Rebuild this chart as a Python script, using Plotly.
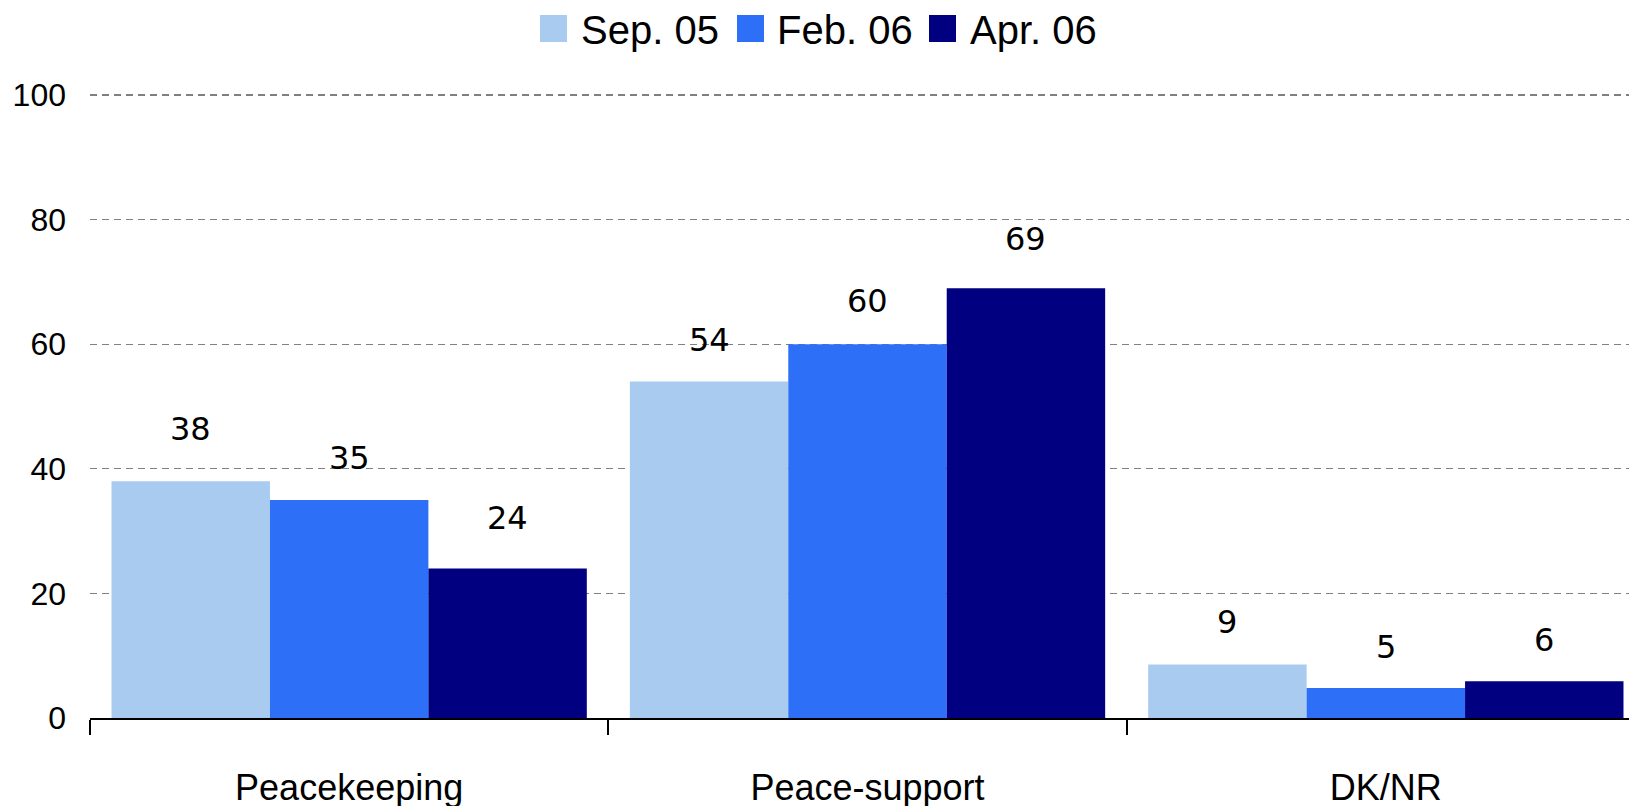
import plotly.graph_objects as go

categories = ["Peacekeeping", "Peace-support", "DK/NR"]
series_names = ["Sep. 05", "Feb. 06", "Apr. 06"]
series_colors = ["#A9CBF0", "#2D6FF7", "#000080"]

sep_05 = [38, 54, 8.6]
feb_06 = [35, 60, 4.8]
apr_06 = [24, 69, 5.9]

sep_05_labels = ["38", "54", "9"]
feb_06_labels = ["35", "60", "5"]
apr_06_labels = ["24", "69", "6"]

y_ticks = [0, 20, 40, 60, 80, 100]

values = [sep_05, feb_06, apr_06]
labels = [sep_05_labels, feb_06_labels, apr_06_labels]

WIDTH, HEIGHT = 1637, 806
MARGIN = dict(l=82, r=0, t=87, b=96)
BARGAP = 0.083

# gap in px between bar top and label baseline (the original labels were nudged by hand)
LABEL_GAPS = [[42, 32, 32], [32, 33, 31], [40, 39, 31]]

# hand-made legend: pixel offsets from the top-left corner of the plot area
LEGEND_SQUARES = [(450, 477), (647, 674), (839, 866)]
LEGEND_TEXT_X = [489, 685, 878]
LEGEND_SQ_Y = (53, 80)
LEGEND_TEXT_Y = 65

fig = go.Figure()
for name, color, vals in zip(series_names, series_colors, values):
    fig.add_trace(go.Bar(
        x=categories,
        y=vals,
        name=name,
        marker=dict(color=color, line=dict(width=0)),
        showlegend=False,
    ))

# value labels above each bar, shifted sideways to sit over their own bar
cat_px = (WIDTH - MARGIN["l"] - MARGIN["r"]) / len(categories)
bar_px = cat_px * (1 - BARGAP) / len(series_names)
for i, (vals, labs, gaps) in enumerate(zip(values, labels, LABEL_GAPS)):
    for cat, v, lab, gap in zip(categories, vals, labs, gaps):
        fig.add_annotation(
            x=cat, y=v, text=lab, showarrow=False,
            xshift=(i - 1) * bar_px, yshift=gap + 10, yanchor="middle",
            font=dict(family="DejaVu Sans", size=32, color="black"),
        )

# legend
for name, color, (sx0, sx1), tx in zip(series_names, series_colors, LEGEND_SQUARES, LEGEND_TEXT_X):
    fig.add_shape(
        type="rect", xref="paper", yref="paper",
        xsizemode="pixel", ysizemode="pixel", xanchor=0, yanchor=1,
        x0=sx0, x1=sx1, y0=LEGEND_SQ_Y[0], y1=LEGEND_SQ_Y[1],
        fillcolor=color, line=dict(width=0),
    )
    fig.add_annotation(
        xref="paper", yref="paper", x=0, y=1, xshift=tx, yshift=LEGEND_TEXT_Y,
        xanchor="left", yanchor="middle", showarrow=False, text=name,
        font=dict(family="Liberation Sans", size=40, color="black"),
    )

# darker dashed line at the top (100)
fig.add_shape(
    type="line", xref="paper", yref="paper", x0=0, x1=1, y0=1, y1=1,
    line=dict(color="black", width=1, dash="7px,5px"),
)

fig.update_xaxes(
    showgrid=False,
    showline=True, linecolor="black", linewidth=2,
    ticks="outside", tickson="boundaries", ticklen=15, tickcolor="black", tickwidth=2,
    ticklabelstandoff=37,
    tickfont=dict(family="Liberation Sans", size=36, color="black"),
)
fig.update_yaxes(
    range=[0, 100],
    tickvals=y_ticks,
    showgrid=True, gridcolor="#808080", gridwidth=1, griddash="7px,5px",
    zeroline=False, showline=False, ticks="",
    ticklabelstandoff=23,
    tickfont=dict(family="Liberation Sans", size=32, color="black"),
)
fig.update_layout(
    width=WIDTH, height=HEIGHT,
    margin=MARGIN,
    barmode="group", bargap=BARGAP, bargroupgap=0,
    plot_bgcolor="white", paper_bgcolor="white",
    font=dict(family="Liberation Sans", color="black"),
    showlegend=False,
)

fig.write_html("out.html")
